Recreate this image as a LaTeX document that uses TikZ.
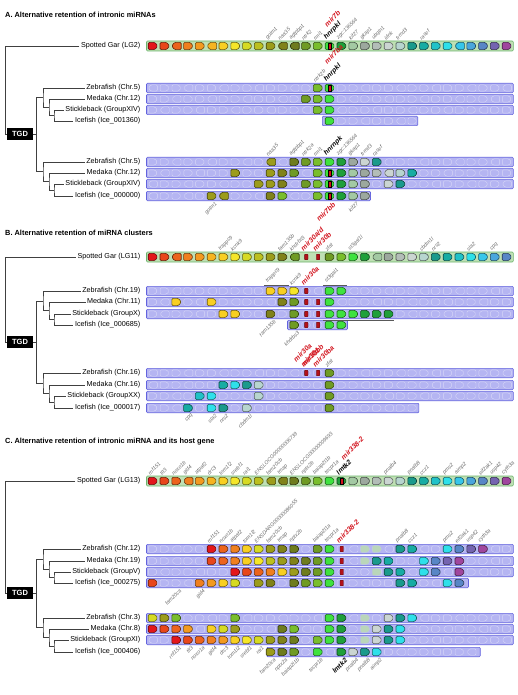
\documentclass[tikz,border=0pt]{standalone}
\usepackage{fontspec}
\setmainfont{Liberation Sans}
\usepackage{xcolor}

% gene colours, in gar order
\definecolor{g1}{HTML}{E3161B}
\definecolor{g2}{HTML}{E8461B}
\definecolor{g3}{HTML}{EC631D}
\definecolor{g4}{HTML}{F07F1F}
\definecolor{g5}{HTML}{F39A20}
\definecolor{g6}{HTML}{F6B421}
\definecolor{g7}{HTML}{F8CF22}
\definecolor{g8}{HTML}{F5E629}
\definecolor{g9}{HTML}{D6DA23}
\definecolor{g10}{HTML}{BCC01E}
\definecolor{g11}{HTML}{9C9C1B}
\definecolor{g12}{HTML}{80821A}
\definecolor{g13}{HTML}{6E7C1E}
\definecolor{g14}{HTML}{6F9B24}
\definecolor{g15}{HTML}{79BE2C}
\definecolor{g16}{HTML}{3FE23F}
\definecolor{g17}{HTML}{1FA03A}
\definecolor{g18}{HTML}{A3C9A3}
\definecolor{g19}{HTML}{9CA89E}
\definecolor{g20}{HTML}{B3BDB8}
\definecolor{g21}{HTML}{CBD5D2}
\definecolor{g22}{HTML}{B7D5CF}
\definecolor{g23}{HTML}{1A9A8C}
\definecolor{g24}{HTML}{17ACA3}
\definecolor{g25}{HTML}{20C2C8}
\definecolor{g26}{HTML}{2EE0EA}
\definecolor{g27}{HTML}{36C6EA}
\definecolor{g28}{HTML}{4AA6DC}
\definecolor{g29}{HTML}{5886C6}
\definecolor{g30}{HTML}{7464B0}
\definecolor{g31}{HTML}{A0469E}
\definecolor{garfill}{HTML}{BFE0B4}
\definecolor{garline}{HTML}{6CB36C}
\definecolor{fishfill}{HTML}{B5B5F2}
\definecolor{fishline}{HTML}{6363DE}
\definecolor{mirred}{HTML}{D2141E}

\tikzset{
  tree/.style={draw=black!75, line width=0.75pt},
  species/.style={anchor=east, inner sep=1.5pt, font=\fontsize{7.2}{8}\selectfont},
  tgdbox/.style={fill=black, text=white, inner sep=0pt, minimum width=26pt, minimum height=12pt, font=\fontsize{7.5}{8}\selectfont\bfseries},
  paneltitle/.style={anchor=west, inner sep=0pt, font=\fontsize{7.4}{8}\selectfont\bfseries},
  garbar/.style={fill=garfill, draw=garline, line width=0.6pt, rounded corners=1pt},
  fishbar/.style={fill=fishfill, draw=fishline, line width=0.6pt, rounded corners=1pt},
  trackmark/.style={draw=white, opacity=0.45, line width=0.4pt, rounded corners=1.2pt},
  tandem/.style={draw=black!65, line width=0.9pt},
  genebox/.style={line width=0.6pt, rounded corners=1.2pt},
  genelbl/.style={rotate=45, inner sep=0.3pt, text=black!58, font=\fontsize{5.3}{6}\selectfont\itshape},
  mirlbl/.style={genelbl, text=mirred, font=\fontsize{7}{8}\selectfont\bfseries\itshape},
  hostlbl/.style={genelbl, text=black, font=\fontsize{6.8}{8}\selectfont\bfseries\itshape},
}

\newcounter{lbl}

% one gene: slot, row y, colour, direction
\newcommand{\gene}[4]{%
  \pgfmathsetmacro{\gx}{147+11.8*(#1-0.5)}
  \begin{scope}[shift={(\gx,#2)}, xscale=#4]
    \draw[genebox, fill=#3, draw=#3!45!black] (-4.7,-3.6) -- (2.1,-3.6) -- (4.7,0) -- (2.1,3.6) -- (-4.7,3.6) -- cycle;
  \end{scope}}

% lost gene, pale
\newcommand{\ghost}[2]{%
  \pgfmathsetmacro{\gx}{147+11.8*(#1-0.5)}
  \fill[g18!75!white, rounded corners=1.2pt] (\gx-4.7,#2-3.4) -- (\gx+2.1,#2-3.4) -- (\gx+4.7,#2) -- (\gx+2.1,#2+3.4) -- (\gx-4.7,#2+3.4) -- cycle;}

% miRNA on its own
\newcommand{\mirbox}[2]{%
  \pgfmathsetmacro{\gx}{147+11.8*(#1-0.5)}
  \draw[fill=mirred!85!black, draw=mirred!45!black, line width=0.3pt, rounded corners=0.6pt] (\gx-1.7,#2-2.8) rectangle (\gx+1.7,#2+2.8);}

% miRNA inside a host gene
\newcommand{\mirin}[2]{%
  \pgfmathsetmacro{\gx}{147+11.8*(#1-0.5)}
  \draw[fill=mirred, draw=black, line width=0.5pt] (\gx-1.4,#2-3) rectangle (\gx+1.4,#2+3);}

% tracks
\newcommand{\gartrack}[1]{%
  \draw[garbar] (146.5,#1-5) rectangle (513.3,#1+5);}
\newcommand{\fishtrack}[3]{% start, end (in slots), row y
  \pgfmathsetmacro{\xa}{147+11.8*#1}
  \pgfmathsetmacro{\xb}{147+11.8*#2}
  \draw[fishbar] (\xa-0.5,#3-4.7) rectangle (\xb+0.5,#3+4.7);
  \foreach \k in {1,...,31} {
    \pgfmathtruncatemacro{\inside}{(\k-1>=#1-0.3) && (\k<=#2+0.3)}
    \ifnum\inside=1
      \pgfmathsetmacro{\kx}{147+11.8*(\k-0.5)}
      \pgfmathtruncatemacro{\kd}{mod(\k*5+#3,3)==0 ? -1 : 1}
      \begin{scope}[shift={(\kx,#3)}, xscale=\kd]
        \draw[trackmark] (-4.5,-3.2) -- (2,-3.2) -- (4.5,0) -- (2,3.2) -- (-4.5,3.2) -- cycle;
      \end{scope}
    \fi
  }}

% gene names above / below a row
\newcommand{\labelup}[4][genelbl]{%
  \stepcounter{lbl}%
  \pgfmathsetmacro{\gx}{147+11.8*(#2-0.5)}%
  \node[#1, anchor=south west] (lbl\arabic{lbl}) at (\gx-2.5,#3-5) {#4};}
\newcommand{\labeldown}[4][genelbl]{%
  \stepcounter{lbl}%
  \pgfmathsetmacro{\gx}{147+11.8*(#2-0.5)}%
  \node[#1, anchor=north east] (lbl\arabic{lbl}) at (\gx+2.5,#3+5) {#4};}

% teleost clade: prefix, y of zebrafish, medaka, stickleback, icefish
\newcommand{\fishclade}[5]{%
  \coordinate (#1s) at (54,{(#4+#5)/2});
  \coordinate (#1m) at (49,{(#3+(#4+#5)/2)/2});
  \coordinate (#1z) at (43,{(#2+(#3+(#4+#5)/2)/2)/2});
  \draw[tree] (#1sb.west) -| (#1s) |- (#1if.west);
  \draw[tree] (#1md.west) -| (#1m) |- (#1s);
  \draw[tree] (#1zf.west) -| (#1z) |- (#1m);}

\begin{document}
\begin{tikzpicture}[x=1pt, y=-1pt]
  \useasboundingbox (0,0) rectangle (518,695);

  %%%%%%%%%%%%%%%%%%%% A %%%%%%%%%%%%%%%%%%%%
  \node[paneltitle] (titleA) at (5,15) {A. Alternative retention of intronic miRNAs};

  \node[species] (garA) at (142,46) {Spotted Gar (LG2)};
  \node[species] (A1zf) at (142,88) {Zebrafish (Chr.5)};
  \node[species] (A1md) at (142,99) {Medaka (Chr.12)};
  \node[species] (A1sb) at (142,110) {Stickleback (GroupXIV)};
  \node[species] (A1if) at (142,121) {Icefish (Ice\_001360)};
  \node[species] (A2zf) at (142,162) {Zebrafish (Chr.5)};
  \node[species] (A2md) at (142,173) {Medaka (Chr.12)};
  \node[species] (A2sb) at (142,184) {Stickleback (GroupXIV)};
  \node[species] (A2if) at (142,196) {Icefish (Ice\_000000)};
  \node[tgdbox] (tgdA) at (20,134) {TGD};

  % tree
  \coordinate (rootA) at (5,134);
  \coordinate (dupA) at (36,134);
  \draw[tree] (garA.west) -| (rootA) -- (tgdA.west);
  \draw[tree] (tgdA.east) -- (dupA);
  \fishclade{A1}{88}{99}{110}{121}
  \fishclade{A2}{162}{173}{184}{196}
  \draw[tree] (A1z) -| (dupA);
  \draw[tree] (A2z) -| (dupA);

  % gar
  \gartrack{46}
  \foreach \s/\d in {1/1,2/1,3/-1,4/1,5/1,6/-1,7/1,8/1,9/1,10/1,11/1,12/-1,13/-1,14/1,15/1,16/1,
                     17/1,18/1,19/1,20/1,21/1,22/1,23/1,24/1,25/1,26/1,27/-1,28/1,29/1,30/1,31/1}
    {\gene{\s}{46}{g\s}{\d}}
  \mirin{16}{46}
  \foreach \s/\t in {11/golm1,12/naa35,13/agtpbp1,14/ntrk2,15/rmi1,17/zgc:136564,18/kif27,
                     19/gkap1,20/ubqln1,21/idnk,22/frmd3,24/rasef}
    {\labelup{\s}{46}{\t}}
  \labelup[hostlbl]{16}{46}{hnrpkl}
  \labelup[mirlbl]{16}{33}{mir7b}

  % first copy
  \fishtrack{0}{31}{88}
  \fishtrack{0}{31}{99}
  \fishtrack{0}{31}{110}
  \fishtrack{14.9}{22.9}{121}
  \foreach \s/\c/\d in {15/15/1,16/16/1} {\gene{\s}{88}{g\c}{\d}}
  \mirin{16}{88}
  \foreach \s/\c/\d in {14/14/1,15/15/1,16/16/1} {\gene{\s}{99}{g\c}{\d}}
  \foreach \s/\c/\d in {15/15/1,16/16/1} {\gene{\s}{110}{g\c}{\d}}
  \gene{16}{121}{g16}{1}
  \labelup{15}{88}{ntrk2b}
  \labelup[hostlbl]{16}{88}{hnrpkl}
  \labelup[mirlbl]{16}{70}{mir7ba}

  % second copy
  \fishtrack{0}{31}{162}
  \fishtrack{0}{31}{173}
  \fishtrack{0}{31}{184}
  \fishtrack{0}{18.9}{196}
  \foreach \s/\c/\d in {11/11/-1,13/13/1,14/14/1,15/15/1,16/16/1,17/17/1,18/19/1,19/21/1,20/23/1}
    {\gene{\s}{162}{g\c}{\d}}
  \foreach \s/\c/\d in {8/11/1,11/11/1,12/12/1,13/14/1,15/15/1,16/16/1,17/17/1,18/18/1,19/19/1,
                        20/20/1,21/21/-1,22/22/1,23/24/1}
    {\gene{\s}{173}{g\c}{\d}}
  \foreach \s/\c/\d in {10/11/1,11/11/1,12/12/1,14/14/1,15/15/1,16/16/1,17/17/1,18/18/1,19/19/1,
                        21/21/1,22/23/1}
    {\gene{\s}{184}{g\c}{\d}}
  \foreach \s/\c/\d in {6/11/1,7/11/-1,11/12/1,12/15/1,15/15/1,16/16/1,17/17/1,18/18/1,19/19/1}
    {\gene{\s}{196}{g\c}{\d}}
  \mirin{16}{173}
  \mirin{16}{184}
  \mirin{16}{196}
  \foreach \s/\t in {11/naa35,13/agtpbp1,14/ntrk2a,15/rmi1,17/zgc:136564,18/gkap1,19/frmd3,20/rasef}
    {\labelup{\s}{162}{\t}}
  \labelup[hostlbl]{16}{162}{hnrnpk}
  \labeldown{6}{196}{golm1}
  \labeldown[mirlbl]{16}{196}{mir7bb}
  \labeldown{18}{196}{kif27}

  %%%%%%%%%%%%%%%%%%%% B %%%%%%%%%%%%%%%%%%%%
  \node[paneltitle] (titleB) at (5,233) {B. Alternative retention of miRNA clusters};

  \node[species] (garB) at (142,257) {Spotted Gar (LG11)};
  \node[species] (B1zf) at (142,291) {Zebrafish (Chr.19)};
  \node[species] (B1md) at (142,302) {Medaka (Chr.11)};
  \node[species] (B1sb) at (142,314) {Stickleback (GroupX)};
  \node[species] (B1if) at (142,325) {Icefish (Ice\_000685)};
  \node[species] (B2zf) at (142,373) {Zebrafish (Chr.16)};
  \node[species] (B2md) at (142,385) {Medaka (Chr.16)};
  \node[species] (B2sb) at (142,396) {Stickleback (GroupXX)};
  \node[species] (B2if) at (142,408) {Icefish (Ice\_000017)};
  \node[tgdbox] (tgdB) at (20,342) {TGD};

  % tree
  \coordinate (rootB) at (5,342);
  \coordinate (dupB) at (36,342);
  \draw[tree] (garB.west) -| (rootB) -- (tgdB.west);
  \draw[tree] (tgdB.east) -- (dupB);
  \fishclade{B1}{291}{302}{314}{325}
  \fishclade{B2}{373}{385}{396}{408}
  \draw[tree] (B1z) -| (dupB);
  \draw[tree] (B2z) -| (dupB);

  % gar
  \gartrack{257}
  \foreach \s/\c/\d in {1/1/1,2/2/1,3/3/-1,4/4/1,5/5/1,6/6/1,7/7/1,8/8/1,9/9/1,10/10/1,11/11/1,
                        12/12/1,13/14/-1,16/14/1,17/15/1,18/16/1,19/17/1,20/18/-1,21/19/1,22/20/1,
                        23/21/1,24/22/1,25/23/1,26/24/1,27/25/1,28/26/1,29/27/1,30/28/1,31/29/1}
    {\gene{\s}{257}{g\c}{\d}}
  \mirbox{14}{257}
  \mirbox{15}{257}
  \foreach \s/\t in {7/trappc9,8/kcnk9,12/fam135b,13/khdrbs3,16/zfat,18/st3gal1l,
                     24/cbdm1l,25/nrs2,28/sla2,30/cpq}
    {\labelup{\s}{257}{\t}}
  \labelup[mirlbl]{14}{257}{mir30a/d}
  \labelup[mirlbl]{15}{257}{mir30b}

  % first copy
  \fishtrack{0}{31}{291}
  \fishtrack{0}{31}{302}
  \fishtrack{0}{31}{314}
  \fishtrack{11.95}{16.95}{325}
  \foreach \s/\c/\d in {11/7/1,12/7/1,13/8/1,16/16/1,17/16/1} {\gene{\s}{291}{g\c}{\d}}
  \mirbox{14}{291}
  \foreach \s/\c/\d in {3/7/1,6/7/1,12/12/1,13/14/1,16/16/1} {\gene{\s}{302}{g\c}{\d}}
  \foreach \s/\c/\d in {7/7/1,8/7/1,11/12/1,13/14/1,16/16/1,17/16/1,18/16/1,19/17/1,20/17/1,21/17/1}
    {\gene{\s}{314}{g\c}{\d}}
  \foreach \s/\c/\d in {13/14/1,16/16/1,17/16/1} {\gene{\s}{325}{g\c}{\d}}
  \foreach \y in {302,314,325} {\mirbox{14}{\y} \mirbox{15}{\y}}
  % tandem copies
  \draw[tandem] (264,285.5) -- (289,285.5);
  \draw[tandem] (323,285.5) -- (347,285.5);
  \draw[tandem] (323,320) -- (394,320);
  \labelup{11}{289}{trappc9}
  \labelup{13}{291}{kcnk9}
  \labelup[mirlbl]{14}{291}{mir30a}
  \labelup{16}{289}{st3gal1}
  \labeldown{11}{314}{fam135b}
  \labeldown{13}{325}{khdrbs3}
  \labeldown[mirlbl]{14}{337}{mir30a}
  \labeldown[mirlbl]{15}{338}{mir30bb}

  % second copy
  \fishtrack{0}{31}{373}
  \fishtrack{0}{31}{385}
  \fishtrack{0}{31}{396}
  \fishtrack{0}{23}{408}
  \gene{16}{373}{g14}{1}
  \mirbox{14}{373}
  \mirbox{15}{373}
  \foreach \s/\c/\d in {7/24/1,8/26/1,9/23/1,10/22/1,16/14/1} {\gene{\s}{385}{g\c}{\d}}
  \foreach \s/\c/\d in {5/25/1,6/26/1,10/22/1,16/14/1} {\gene{\s}{396}{g\c}{\d}}
  \foreach \s/\c/\d in {4/24/1,6/26/1,7/23/1,9/22/1,16/14/1} {\gene{\s}{408}{g\c}{\d}}
  \labelup[mirlbl]{14}{373}{mir30d}
  \labelup[mirlbl]{15}{373}{mir30ba}
  \labelup{16}{373}{zfat}
  \foreach \s/\t in {4/cpq,6/sla2,7/nrs2,9/cbdm1l} {\labeldown{\s}{408}{\t}}

  %%%%%%%%%%%%%%%%%%%% C %%%%%%%%%%%%%%%%%%%%
  \node[paneltitle] (titleC) at (5,442) {C. Alternative retention of intronic miRNA and its host gene};

  \node[species] (garC) at (142,481) {Spotted Gar (LG13)};
  \node[species] (C1zf) at (142,549) {Zebrafish (Chr.12)};
  \node[species] (C1md) at (142,561) {Medaka (Chr.19)};
  \node[species] (C1sb) at (142,572) {Stickleback (GroupV)};
  \node[species] (C1if) at (142,583) {Icefish (Ice\_000275)};
  \node[species] (C2zf) at (142,618) {Zebrafish (Chr.3)};
  \node[species] (C2md) at (142,629) {Medaka (Chr.8)};
  \node[species] (C2sb) at (142,640) {Stickleback (GroupXI)};
  \node[species] (C2if) at (142,652) {Icefish (Ice\_000406)};
  \node[tgdbox] (tgdC) at (20,593) {TGD};

  % tree
  \coordinate (rootC) at (5,593);
  \coordinate (dupC) at (36,593);
  \draw[tree] (garC.west) -| (rootC) -- (tgdC.west);
  \draw[tree] (tgdC.east) -- (dupC);
  \fishclade{C1}{549}{561}{572}{583}
  \fishclade{C2}{618}{629}{640}{652}
  \draw[tree] (C1z) -| (dupC);
  \draw[tree] (C2z) -| (dupC);

  % gar
  \gartrack{481}
  \foreach \s/\d in {1/1,2/1,3/1,4/-1,5/1,6/1,7/1,8/1,9/1,10/1,11/-1,12/-1,13/1,14/1,15/1,16/1,
                     17/1,18/1,19/1,20/1,21/1,22/1,23/1,24/1,25/1,26/1,27/1,28/1,29/1,30/1,31/1}
    {\gene{\s}{481}{g\s}{\d}}
  \mirin{17}{481}
  \foreach \s/\t in {1/rnf151,2/tlt3,3/noxo1b,4/gid4,5/atpaf2,6/drc3,7/tom1l2,8/srebf1,9/rai1,
                     10/ENSLOCG00000006739,11/fam20cb,12/tmap,13/ENSLOCG00000009693,14/nptx2b,
                     15/baiap2l1b,16/tecpr1a,21/pnalb4,23/pnalb8,24/ccz1,26/pms2,27/aimp2,
                     29/eif2ak1,30/usp42,31/cyth3a}
    {\labelup{\s}{481}{\t}}
  \labelup[hostlbl]{17}{481}{lmtk2}
  \labelup[mirlbl]{17.4}{466}{mir338-2}

  % first copy
  \fishtrack{0}{31}{549}
  \fishtrack{0}{31}{561}
  \fishtrack{0}{31}{572}
  \fishtrack{0}{27.2}{583}
  \foreach \s/\c/\d in {6/1/1,7/3/1,8/4/1,9/7/1,10/9/1,11/11/1,12/12/1,13/13/1,15/14/1,16/16/1,
                        22/23/1,23/24/1,26/26/1,27/29/1,28/30/1,29/31/1}
    {\gene{\s}{549}{g\c}{\d}}
  \ghost{19}{549}
  \ghost{20}{549}
  \foreach \s/\c/\d in {6/2/1,7/3/1,8/4/1,9/7/1,10/8/1,11/10/1,12/11/1,13/12/1,14/13/1,15/14/1,
                        16/16/1,20/23/1,21/24/1,24/26/1,25/29/1,26/30/1,27/31/1}
    {\gene{\s}{561}{g\c}{\d}}
  \ghost{19}{561}
  \foreach \s/\c/\d in {8/1/1,9/2/1,10/3/1,11/4/1,12/7/1,13/11/1,14/13/1,15/14/1,16/16/1,
                        21/23/1,22/24/1,24/26/1,25/29/1,27/31/1}
    {\gene{\s}{572}{g\c}{\d}}
  \ghost{20}{572}
  \foreach \s/\c/\d in {1/2/1,5/4/1,6/5/1,7/7/1,8/9/1,10/11/1,11/12/1,13/13/1,14/14/1,15/15/1,
                        16/16/1,22/23/1,23/24/1,26/26/1,27/29/1}
    {\gene{\s}{583}{g\c}{\d}}
  \foreach \y in {549,561,572,583} {\mirbox{17}{\y}}
  \foreach \s/\t in {6/rnf151,7/noxo1b,8/atpaf2,9/tom1l2,10/ENSDARG00000086055,11/fam20cb,12/tmap,
                     13/nptx2b,15/baiap2l1a,16/tecpr1a,22/pnalb8,23/ccz1,26/pms2,27/eif2ak1,
                     28/usp42,29/cyth3a}
    {\labelup{\s}{549}{\t}}
  \labelup[mirlbl]{17}{549}{mir338-2}
  \labeldown{3}{583}{fam20ca}
  \labeldown{5}{583}{gid4}

  % second copy
  \fishtrack{0}{31}{618}
  \fishtrack{0}{31}{629}
  \fishtrack{0}{31}{640}
  \fishtrack{10.2}{28.2}{652}
  \foreach \s/\c/\d in {1/9/1,2/11/1,3/15/1,8/15/1,16/16/1,17/17/1,21/21/1,22/23/1,23/26/1}
    {\gene{\s}{618}{g\c}{\d}}
  \foreach \s/\c/\d in {1/1/1,2/2/1,3/3/1,4/5/1,6/7/1,7/9/1,8/11/1,12/13/1,13/15/1,16/16/1,
                        17/17/1,20/21/1,21/23/1,22/26/1}
    {\gene{\s}{629}{g\c}{\d}}
  \foreach \s/\c/\d in {3/1/1,4/2/1,5/3/1,6/4/1,7/5/1,8/7/1,9/8/1,10/9/1,11/11/1,12/12/1,13/13/1,
                        15/15/1,16/16/1,17/17/1,20/21/1,21/23/1,22/26/1}
    {\gene{\s}{640}{g\c}{\d}}
  \foreach \s/\c/\d in {11/11/1,12/13/1,13/14/1,15/16/1,17/17/1,18/21/1,19/23/1,20/26/1}
    {\gene{\s}{652}{g\c}{\d}}
  \foreach \y in {618,629,640} {\ghost{19}{\y}}
  \foreach \s/\t in {3/rnf151,4/tlt3,5/noxo1a,6/gid4,7/drc3,8/tom1l2,9/srebf1,10/rai1}
    {\labeldown{\s}{640}{\t}}
  \foreach \s/\t in {11/fam20ca,12/nptx2a,13/baiap2l1b,15/tecpr1b,18/pnalb4,19/pnalb8,20/aimp2}
    {\labeldown{\s}{652}{\t}}
  \labeldown[hostlbl]{17}{652}{lmtk2}

\end{tikzpicture}
\end{document}
